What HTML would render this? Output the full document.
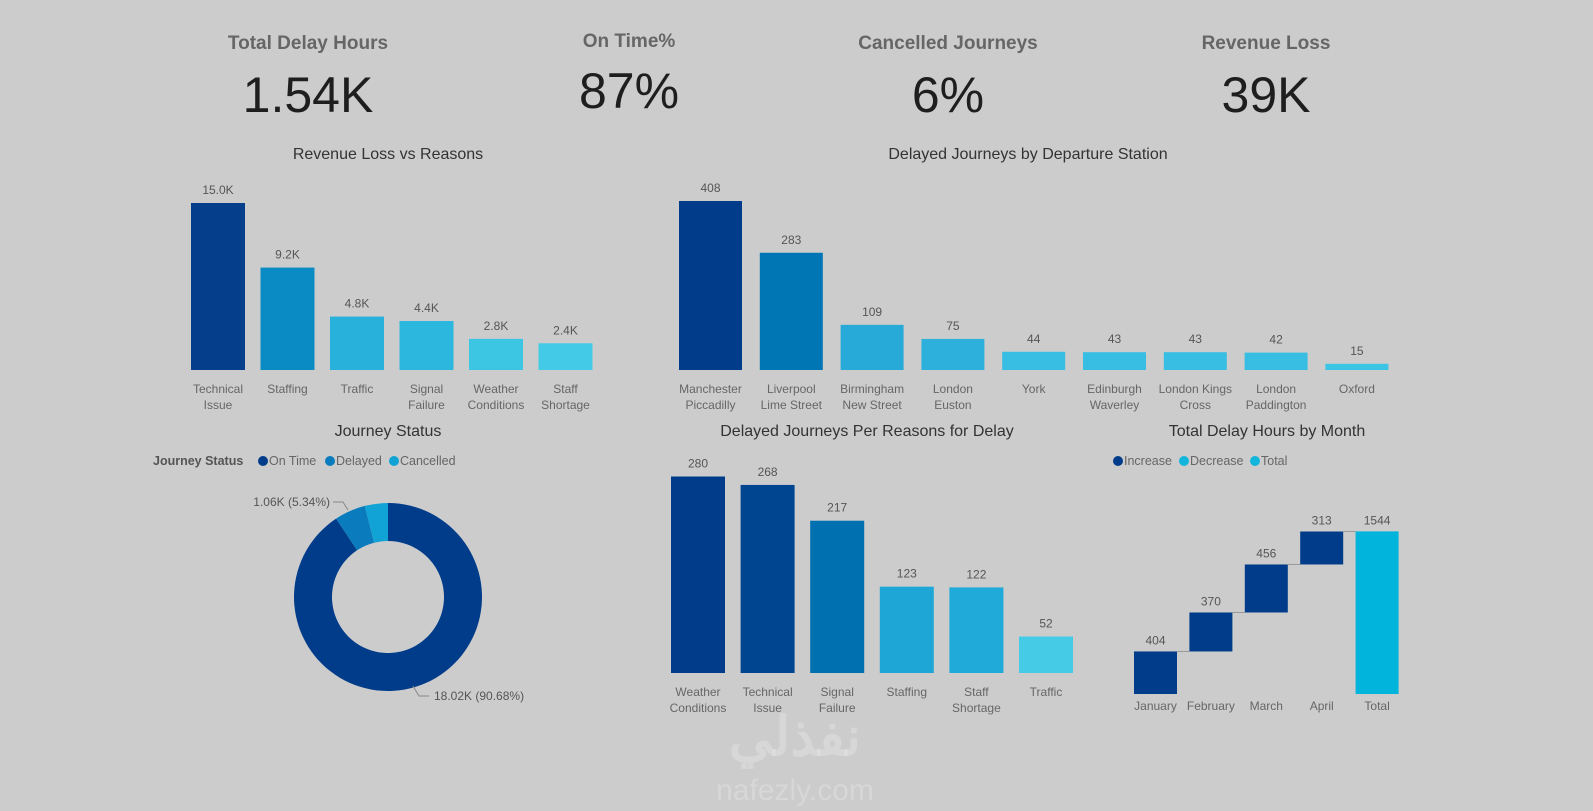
<!DOCTYPE html>
<html><head><meta charset="utf-8"><style>
html,body{margin:0;padding:0;background:#cccccc;}
svg{display:block;font-family:"Liberation Sans","Noto Sans CJK SC",sans-serif;}
</style></head><body>
<svg id="dash" width="1593" height="811" viewBox="0 0 1593 811" xmlns="http://www.w3.org/2000/svg">
<rect width="1593" height="811" fill="#cccccc"/>
<g id="kpis"></g>
<g id="c1"></g>
<g id="c2"></g>
<g id="c3"></g>
<g id="c4"></g>
<g id="c5"></g>
<text x="795" y="755" text-anchor="middle" font-size="54" font-weight="bold" fill="rgba(255,255,255,0.22)">نفذلي</text>
<text x="795" y="800" text-anchor="middle" font-size="30" fill="rgba(255,255,255,0.22)">nafezly.com</text>
</svg>
<script>
const NS="http://www.w3.org/2000/svg";
const kpiTitles=["Total Delay Hours","On Time%","Cancelled Journeys","Revenue Loss"];
const kpiValues=["1.54K","87%","6%","39K"];
const rlCats=["Technical|Issue","Staffing","Traffic","Signal|Failure","Weather|Conditions","Staff|Shortage"];
const rlVals=[15.0,9.2,4.8,4.4,2.8,2.4];
const rlLabels=["15.0K","9.2K","4.8K","4.4K","2.8K","2.4K"];
const stCats=["Manchester|Piccadilly","Liverpool|Lime Street","Birmingham|New Street","London|Euston","York","Edinburgh|Waverley","London Kings|Cross","London|Paddington","Oxford"];
const stVals=[408,283,109,75,44,43,43,42,15];
const jsCats=["On Time","Delayed","Cancelled"];
const jsVals=[18.02,1.06,0.79];
const drCats=["Weather|Conditions","Technical|Issue","Signal|Failure","Staffing","Staff|Shortage","Traffic"];
const drVals=[280,268,217,123,122,52];
const mCats=["January","February","March","April"];
const mVals=[404,370,456,313];
const mTotal=1544;

function el(p,tag,a,txt){const e=document.createElementNS(NS,tag);for(const k in a)e.setAttribute(k,a[k]);if(txt!==undefined)e.textContent=txt;p.appendChild(e);return e;}
function lbl(g,x,y,s){const parts=s.split("|");parts.forEach((p,i)=>{const t=el(g,"text",{x:x,y:y+i*16,"text-anchor":"middle","font-size":12,fill:"#666"},p);

});}
function title(g,x,y,s){const t=el(g,"text",{x:x,y:y,"text-anchor":"middle","font-size":16,fill:"#333"},s);

}

// KPIs
const kg=document.getElementById("kpis");const kx=[308,629,948,1266];
kpiTitles.forEach((t,i)=>{
 const a=el(kg,"text",{x:kx[i],y:i==1?47:49,"text-anchor":"middle","font-size":19,"font-weight":"bold",fill:"#666"},t);
 
 
 const b=el(kg,"text",{x:kx[i],y:i==1?108:112,"text-anchor":"middle","font-size":50,fill:"#1e1e1e"},kpiValues[i]);
 
 
});

function bars(g,cats,vals,labels,x0,step,w,base,maxV,maxH,colors,labY){
 cats.forEach((c,i)=>{
  const h=vals[i]/maxV*maxH,x=x0+i*step;
  const r=el(g,"rect",{x:x,y:base-h,width:w,height:h,fill:colors[i]});
  
  
  const v=el(g,"text",{x:x+w/2,y:base-h-9,"text-anchor":"middle","font-size":12,fill:"#555"},labels?labels[i]:vals[i]);
  
  
  lbl(g,x+w/2,labY,c);
 });
}
// chart1
const g1=document.getElementById("c1");title(g1,388,159,"Revenue Loss vs Reasons");
bars(g1,rlCats,rlVals,rlLabels,191,69.5,54,370,15,167,["#053e8b","#0a8bc4","#27b1db","#2bb7de","#3dc6e4","#43cae7"],393);
// chart2
const g2=document.getElementById("c2");title(g2,1028,159,"Delayed Journeys by Departure Station");
bars(g2,stCats,stVals,null,679,80.8,63,370,408,169,["#003c8a","#0076b5","#27aad7","#2db1dc","#38bee2","#38bee2","#38bee2","#38bee2","#3cc4e4"],393);
// chart4
const g4=document.getElementById("c4");title(g4,867,436,"Delayed Journeys Per Reasons for Delay");
bars(g4,drCats,drVals,null,671,69.6,54,673,280,196.5,["#003c8a","#004590","#0070b0","#1ea6d7","#20aad9","#45cbe6"],696);

// donut
const g3=document.getElementById("c3");title(g3,388,436,"Journey Status");
const lg=el(g3,"g",{});


el(lg,"text",{x:153,y:465,"font-size":12.5,"font-weight":"bold",fill:"#555"},"Journey Status");
const dcol=["#003c8a","#0a7cbd","#12a3d6"];
const lx=[258,325,389];
jsCats.forEach((c,i)=>{const d=el(lg,"circle",{cx:lx[i]+5,cy:461,r:5,fill:dcol[i]});
 
 
 el(lg,"text",{x:lx[i]+11,y:465,"font-size":12.5,fill:"#666"},c);});
const cx=388,cy=597,R=94,r=56;const tot=jsVals.reduce((a,b)=>a+b,0);let ang=0;
jsCats.forEach((c,i)=>{const a0=ang,a1=ang+jsVals[i]/tot*2*Math.PI;ang=a1;
 const p=(a,rr)=>[cx+rr*Math.sin(a),cy-rr*Math.cos(a)];const lg2=(a1-a0)>Math.PI?1:0;
 const [x0,y0]=p(a0,R),[x1,y1]=p(a1,R),[x2,y2]=p(a1,r),[x3,y3]=p(a0,r);
 const s=el(g3,"path",{d:`M${x0},${y0}A${R},${R} 0 ${lg2} 1 ${x1},${y1}L${x2},${y2}A${r},${r} 0 ${lg2} 0 ${x3},${y3}Z`,fill:dcol[i]});
 
 });
el(g3,"polyline",{points:"333,502 343,502 348,510",fill:"none",stroke:"#888","stroke-width":1});
el(g3,"text",{x:330,y:506,"text-anchor":"end","font-size":12,fill:"#555"},"1.06K (5.34%)");
el(g3,"polyline",{points:"413,686 419,696 429,696",fill:"none",stroke:"#888","stroke-width":1});
el(g3,"text",{x:434,y:700,"font-size":12,fill:"#555"},"18.02K (90.68%)");

// waterfall
const g5=document.getElementById("c5");title(g5,1267,436,"Total Delay Hours by Month");
const wl=el(g5,"g",{});


[["Increase","#003c8a",1113],["Decrease","#12b5dc",1179],["Total","#12b5dc",1250]].forEach(d=>{
 const m=el(wl,"circle",{cx:d[2]+5,cy:461,r:5,fill:d[1]});
 
 
 el(wl,"text",{x:d[2]+11,y:465,"font-size":12.5,fill:"#666"},d[0]);});
const wBase=694,wS=162.6/mTotal,wx0=1134,wStep=55.4,ww=43;
let run=0;
const all=mCats.concat(["Total"]);
all.forEach((c,i)=>{
 const isT=i==mCats.length;const v=isT?mTotal:mVals[i];
 const lo=isT?0:run,hi=isT?mTotal:run+v;
 const x=wx0+i*wStep,yT=wBase-hi*wS,yB=wBase-lo*wS;
 const b=el(g5,"rect",{x:x,y:yT,width:ww,height:yB-yT,fill:isT?"#00b4dc":"#003c8a"});
 
 
 if(i<all.length-1){el(g5,"line",{x1:x+ww,y1:yT,x2:x+wStep,y2:yT,stroke:"#999","stroke-width":1});}
 const t=el(g5,"text",{x:x+ww/2,y:yT-7,"text-anchor":"middle","font-size":12,fill:"#555"},v);
 
 
 lbl(g5,x+ww/2,710,c);
 if(!isT)run+=v;
});
</script>
</body></html>
